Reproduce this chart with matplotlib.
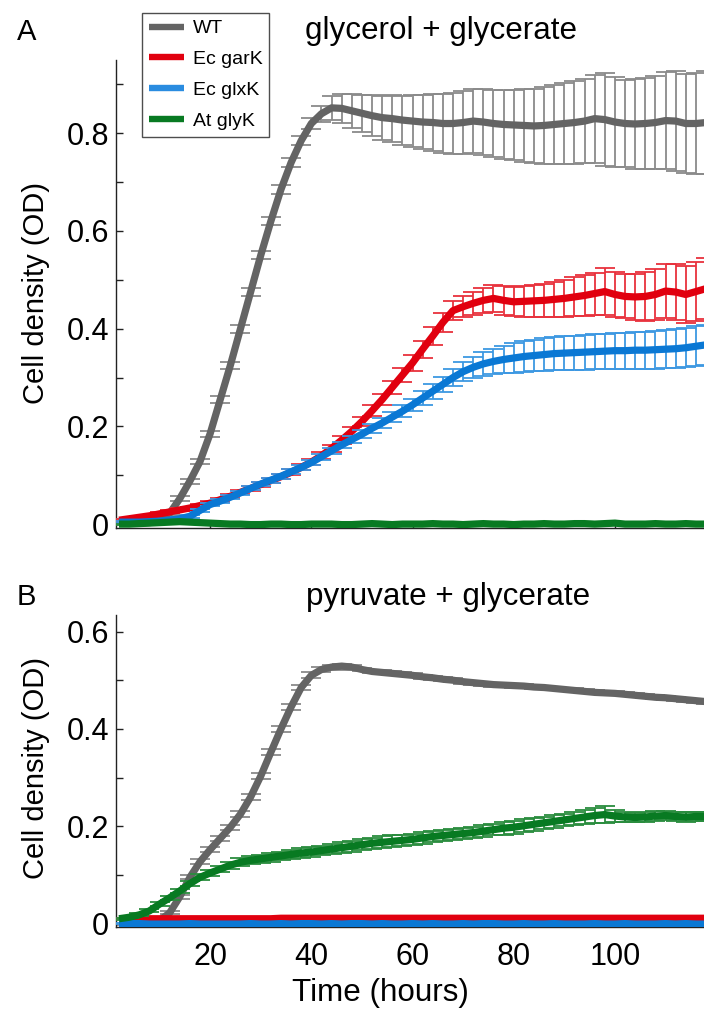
import numpy as np
import matplotlib
matplotlib.use('Agg')
import matplotlib.pyplot as plt
from matplotlib.ticker import MultipleLocator, FuncFormatter, FixedLocator
from matplotlib.lines import Line2D

plt.rcParams['font.family'] = ['Liberation Sans', 'DejaVu Sans']

# ---------------- data ----------------
time_h = [2, 4, 6, 8, 10, 12, 14, 16, 18, 20,
          22, 24, 26, 28, 30, 32, 34, 36, 38, 40,
          42, 44, 46, 48, 50, 52, 54, 56, 58, 60,
          62, 64, 66, 68, 70, 72, 74, 76, 78, 80,
          82, 84, 86, 88, 90, 92, 94, 96, 98, 100,
          102, 104, 106, 108, 110, 112, 114, 116, 118]

strains = ['WT', 'Ec garK', 'Ec glxK', 'At glyK']

# Panel A: glycerol + glycerate
a_wt = [.002, .002, .002, .003, .006, .022, .052, .088, .128, .185,
        .255, .325, .40, .475, .55, .62, .685, .74, .785, .82,
        .84, .852, .851, .846, .841, .836, .832, .83, .827, .825,
        .823, .822, .82, .82, .822, .825, .823, .82, .818, .817,
        .816, .815, .816, .818, .82, .822, .825, .83, .828, .823,
        .82, .819, .82, .822, .826, .825, .82, .82, .822]
a_wt_err = [.002, .002, .002, .002, .003, .004, .005, .005, .006, .006,
            .007, .007, .008, .008, .008, .008, .009, .01, .01, .012,
            .016, .024, .03, .035, .038, .042, .045, .048, .05, .053,
            .055, .058, .06, .062, .064, .066, .067, .068, .07, .072,
            .074, .076, .078, .08, .082, .084, .086, .09, .095, .092,
            .09, .092, .094, .096, .1, .103, .102, .104, .106]
a_gark = [.008, .011, .014, .017, .021, .025, .029, .033, .038, .043,
          .05, .057, .065, .073, .081, .089, .097, .106, .116, .127,
          .14, .155, .172, .19, .21, .232, .255, .28, .305, .33,
          .358, .385, .413, .437, .445, .452, .458, .462, .458, .455,
          .456, .457, .458, .46, .462, .465, .468, .472, .476, .47,
          .466, .465, .466, .47, .477, .475, .47, .476, .482]
a_gark_err = [.002, .002, .002, .002, .003, .003, .003, .003, .003, .004,
              .004, .004, .004, .005, .005, .005, .005, .006, .006, .006,
              .007, .007, .008, .009, .01, .011, .012, .013, .014, .016,
              .017, .018, .019, .02, .022, .024, .025, .028, .029, .03,
              .032, .033, .034, .036, .038, .04, .042, .043, .048, .046,
              .045, .047, .05, .052, .055, .058, .058, .06, .062]
a_glxk = [.004, .004, .004, .005, .006, .008, .011, .016, .028, .04,
          .047, .055, .064, .073, .082, .09, .098, .107, .116, .126,
          .138, .15, .162, .173, .184, .196, .207, .219, .231, .244,
          .258, .272, .286, .3, .312, .321, .328, .333, .337, .34,
          .343, .345, .347, .349, .35, .351, .352, .353, .354, .355,
          .355, .356, .356, .357, .358, .359, .361, .364, .367]
a_glxk_err = [.002, .002, .002, .002, .002, .003, .003, .003, .003, .003,
              .004, .004, .004, .004, .005, .005, .005, .005, .005, .006,
              .006, .006, .007, .007, .008, .009, .01, .011, .012, .013,
              .014, .015, .016, .018, .02, .022, .024, .026, .028, .03,
              .031, .032, .033, .034, .035, .035, .036, .036, .036, .037,
              .037, .038, .038, .039, .039, .04, .04, .041, .041]
a_glyk = [.0, .0, .001, .002, .003, .004, .005, .004, .003, .002,
          .001, .0, .0, -.001, -.001, .0, .0, -.001, -.001, .0,
          .0, .0, -.001, -.001, .0, .001, .0, -.001, .0, .0,
          .0, .001, .0, .0, -.001, .0, .001, .0, .0, -.001,
          .0, .0, .001, .0, .0, .001, .001, .0, .001, .002,
          .0, .0, .0, .001, .0, .0, .001, .0, .0]
a_glyk_err = [.001, .001, .001, .002, .002, .002, .002, .002, .002, .002,
              .002, .002, .002, .002, .002, .002, .002, .002, .002, .002,
              .002, .002, .002, .002, .002, .002, .002, .002, .002, .002,
              .002, .002, .002, .002, .002, .002, .002, .002, .002, .002,
              .002, .002, .002, .002, .002, .002, .002, .002, .002, .002,
              .002, .002, .002, .002, .002, .002, .002, .002, .002]

# Panel B: pyruvate + glycerate
b_wt = [.0, .0, .0, .001, .006, .022, .055, .095, .127, .152,
        .175, .198, .225, .26, .303, .352, .40, .445, .485, .51,
        .522, .527, .529, .527, .522, .518, .516, .514, .512, .51,
        .507, .505, .502, .5, .497, .495, .493, .491, .49, .489,
        .488, .486, .485, .483, .481, .479, .477, .475, .474, .473,
        .471, .469, .467, .465, .464, .462, .46, .458, .456]
b_wt_err = [.002, .002, .002, .002, .003, .003, .004, .004, .005, .005,
            .005, .005, .006, .006, .006, .006, .006, .006, .006, .006,
            .005, .005, .005, .005, .004, .004, .004, .004, .004, .004,
            .004, .004, .004, .004, .004, .004, .004, .004, .004, .004,
            .004, .004, .004, .004, .004, .004, .004, .004, .004, .004,
            .004, .004, .004, .004, .004, .004, .004, .004, .004]
b_gark = [.01, .01, .01, .01, .01, .01, .01, .01, .01, .01,
          .01, .01, .01, .01, .01, .01, .011, .011, .011, .011,
          .011, .011, .011, .011, .011, .011, .011, .011, .011, .011,
          .011, .011, .011, .011, .011, .011, .011, .011, .011, .011,
          .011, .011, .011, .011, .011, .011, .011, .011, .011, .011,
          .011, .011, .011, .011, .011, .011, .011, .011, .011]
b_gark_err = [.001, .001, .001, .001, .001, .001, .001, .001, .001, .001,
              .001, .001, .001, .001, .001, .001, .001, .001, .001, .001,
              .001, .001, .001, .001, .001, .001, .001, .001, .001, .001,
              .001, .001, .001, .001, .001, .001, .001, .001, .001, .001,
              .001, .001, .001, .001, .001, .001, .001, .001, .001, .001,
              .001, .001, .001, .001, .001, .001, .001, .001, .001]
b_glxk = [.0, .0, .0, -.001, -.001, -.001, -.001, .0, -.001, -.001,
          -.001, -.001, -.001, .0, -.001, -.001, .0, -.001, .0, .0,
          -.001, .0, -.001, .0, .0, -.001, .0, -.001, -.001, .0,
          -.001, .0, -.001, -.001, .0, -.001, .0, .0, -.001, -.001,
          .0, -.001, -.001, .0, -.001, -.001, -.001, .0, -.001, -.001,
          .0, -.001, -.001, -.001, .0, -.001, .0, -.001, -.001]
b_glxk_err = [.001, .001, .001, .001, .001, .001, .001, .001, .001, .001,
              .001, .001, .001, .002, .001, .001, .002, .001, .002, .002,
              .001, .002, .001, .002, .002, .001, .002, .001, .001, .002,
              .001, .002, .001, .001, .002, .001, .002, .002, .001, .001,
              .002, .001, .001, .002, .001, .001, .001, .002, .001, .001,
              .002, .001, .001, .001, .002, .001, .002, .001, .001]
b_glyk = [.01, .013, .018, .026, .04, .053, .067, .082, .095, .104,
          .112, .12, .126, .13, .133, .136, .139, .142, .145, .147,
          .15, .153, .156, .159, .162, .165, .167, .169, .171, .173,
          .176, .179, .181, .183, .185, .187, .19, .193, .196, .198,
          .201, .204, .207, .21, .213, .216, .219, .222, .224, .221,
          .219, .218, .219, .221, .222, .22, .219, .22, .22]
b_glyk_err = [.002, .002, .003, .003, .004, .004, .005, .005, .006, .006,
              .007, .007, .008, .008, .008, .009, .009, .009, .01, .01,
              .01, .01, .011, .011, .011, .011, .012, .012, .012, .012,
              .012, .012, .012, .012, .012, .012, .012, .012, .013, .013,
              .013, .013, .013, .013, .013, .013, .014, .016, .018, .012,
              .01, .009, .01, .011, .01, .009, .01, .01, .01]

line_colors = ['#646464', '#e1000f', '#0a78d4', '#087a22']
err_colors = ['#8a8a8a', '#e8323d', '#3d98e2', '#2a8c3e']
legend_colors = ['#646464', '#e1000f', '#2a8ce0', '#087a22']

x_ticks = [20, 40, 60, 80, 100]

# ---------------- figure ----------------
W, H = 704, 1010
fig = plt.figure(figsize=(W / 100, H / 100), dpi=100)
axA = fig.add_axes([116 / W, 1 - 528 / H, 588 / W, 468 / H])
axB = fig.add_axes([116 / W, 1 - 927 / H, 588 / W, 312 / H])

panelA = [(a_wt, a_wt_err), (a_gark, a_gark_err), (a_glxk, a_glxk_err), (a_glyk, a_glyk_err)]
panelB = [(b_wt, b_wt_err), (b_gark, b_gark_err), (b_glxk, b_glxk_err), (b_glyk, b_glyk_err)]

t = np.array(time_h, dtype=float)

for ax, series in ((axA, panelA), (axB, panelB)):
    for i, (m, e) in enumerate(series):
        z = 2 + i
        ax.errorbar(t, m, yerr=e, fmt='none', ecolor=err_colors[i],
                    elinewidth=1.3, capsize=7, capthick=1.3, zorder=z)
        ax.plot(t, m, color=line_colors[i], lw=5.2, zorder=z + 0.5,
                solid_capstyle='butt', solid_joinstyle='round')
    for s in ('top', 'right'):
        ax.spines[s].set_visible(False)
    for s in ('left', 'bottom'):
        ax.spines[s].set_linewidth(1.0)
        ax.spines[s].set_color('#222222')
    ax.set_xlim(1.4, 117.6)
    ax.xaxis.set_major_locator(FixedLocator(x_ticks))
    ax.yaxis.set_major_locator(MultipleLocator(0.2))
    ax.yaxis.set_minor_locator(MultipleLocator(0.1))
    ax.yaxis.set_major_formatter(FuncFormatter(lambda v, p: '0' if abs(v) < 1e-9 else f'{v:.1f}'))
    ax.tick_params(axis='y', which='both', direction='in', length=5, width=1.0,
                   colors='#222222', labelcolor='black', labelsize=22, pad=5)
    ax.tick_params(axis='x', which='both', direction='in', length=5, width=1.0,
                   colors='#222222', labelcolor='black', labelsize=22, pad=11)

axA.set_ylim(-0.008, 0.95)
axB.set_ylim(-0.007, 0.634)
axA.tick_params(axis='x', labelbottom=False)

# texts
fig.text(17 / W, 1 - 40 / H, 'A', fontsize=21, ha='left', va='baseline')
fig.text(17 / W, 1 - 605 / H, 'B', fontsize=21, ha='left', va='baseline')
fig.text(441 / W, 1 - 39 / H, 'glycerol + glycerate', fontsize=22.6, ha='center', va='baseline')
fig.text(448 / W, 1 - 605 / H, 'pyruvate + glycerate', fontsize=22.6, ha='center', va='baseline')
fig.text(36 / W, 1 - 293 / H, 'Cell density (OD)', fontsize=21, rotation=90, ha='center', va='center')
fig.text(36 / W, 1 - 768 / H, 'Cell density (OD)', fontsize=21, rotation=90, ha='center', va='center')
fig.text(380 / W, 1 - 993 / H, 'Time (hours)', fontsize=22.6, ha='center', va='center')

handles = [Line2D([0], [0], color=c, lw=4.6, solid_capstyle='butt') for c in legend_colors]
leg = fig.legend(handles, strains, loc='upper left', bbox_to_anchor=(142 / W, 1 - 13 / H),
                 bbox_transform=fig.transFigure, fontsize=14, frameon=True, fancybox=False,
                 edgecolor='#222222', handlelength=1.8, handletextpad=0.45,
                 labelspacing=0.68, borderpad=0.35, borderaxespad=0)
leg.get_frame().set_linewidth(1.0)
leg.set_zorder(10)

fig.savefig('out.png', dpi=100)
